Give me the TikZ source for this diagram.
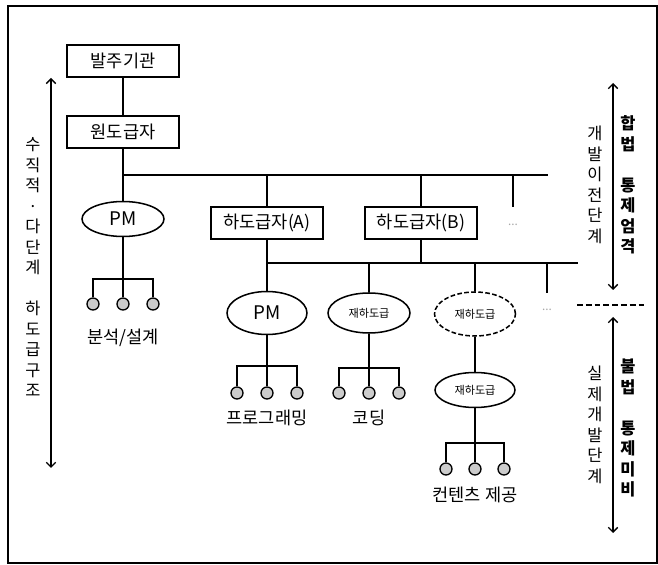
\documentclass[tikz,border=0pt]{standalone}
\usepackage{fontspec}
\usetikzlibrary{shapes.geometric,arrows.meta}
\newfontfamily\kr{Noto Sans CJK KR}

\tikzset{
	box/.style={draw, rectangle, line width=1.3pt, minimum width=3.36cm, minimum height=0.96cm, inner sep=0pt, font=\fontsize{15}{18}\selectfont\kr},
	oval/.style={draw, ellipse, line width=1.3pt, inner sep=0pt, font=\fontsize{16}{18}\selectfont\kr},
	small/.style={font=\fontsize{9.5}{11}\selectfont\kr},
	leaf/.style={draw, circle, fill=gray!40, line width=1.1pt, minimum size=0.36cm, inner sep=0pt},
	link/.style={line width=1.3pt},
	word/.style={font=\fontsize{15}{18}\selectfont\kr},
	dots/.style={text=gray!70, font=\fontsize{10}{11}\selectfont\kr},
	vtext/.style={align=center, inner sep=0pt, font=\fontsize{14}{17.5}\selectfont\kr},
	vbold/.style={vtext, font=\fontsize{14}{17.5}\selectfont\kr\bfseries},
}

\begin{document}
\begin{tikzpicture}[x=0.03cm, y=-0.03cm, >={Straight Barb[length=4pt,width=8pt]}]
				\useasboundingbox (0,0) rectangle (658,565);
				\draw[line width=1.4pt] (8,6) rectangle (657,563);
				% upper level
				\node[box] (org)at(123, 61) {발주기관};
				\node[box] (prime)at(123, 132) {원도급자};
				\node[oval, minimum width=2.46cm, minimum height=1.05cm] (pm1)at(123, 219) {PM};
				\node[box] (subA)at(267, 223) {하도급자(A)};
				\node[box] (subB)at(421, 223) {하도급자(B)};
				\node[dots] (dots1)at(513, 225) {...};
				\coordinate (b1L)at(123, 175);
				\coordinate (b1R)at(548, 175);
				\coordinate (t1)at(513, 207);
				\draw[link] (org) -- (prime);
				\draw[link] (prime) -- (pm1);
				\draw[link] (b1L) -- (b1R);
				\draw[link] (subA) -- (subA |- b1L);
				\draw[link] (subB) -- (subB |- b1L);
				\draw[link] (t1) -- (t1 |- b1L);
				% lower level
				\node[oval, minimum width=2.4cm, minimum height=1.29cm] (pm2)at(267, 313) {PM};
				\node[oval, small, minimum width=2.46cm, minimum height=1.2cm] (re1)at(369, 313) {재하도급};
				\node[oval, small, dash pattern=on 4pt off 2pt, minimum width=2.43cm, minimum height=1.32cm] (re2)at(475, 314) {재하도급};
				\node[oval, small, minimum width=2.4cm, minimum height=1.05cm] (re3)at(475, 390) {재하도급};
				\node[dots] (dots2)at(547, 310) {...};
				\coordinate (b2L)at(267, 263);
				\coordinate (b2R)at(578, 263);
				\coordinate (t2)at(547, 293);
				\draw[link] (subA) -- (pm2);
				\draw[link] (b2L) -- (b2R);
				\draw[link] (subB) -- (subB |- b2L);
				\draw[link] (re1) -- (re1 |- b2L);
				\draw[link] (re2) -- (re2 |- b2L);
				\draw[link] (t2) -- (t2 |- b2L);
				\draw[link] (re2) -- (re3);
				% leaves
				\coordinate (k1)at(123, 279);
				\foreach \n/\dx in {a/-30, b/0, c/30} \node[leaf] (l1\n)at(123+\dx, 304) {};
				\draw[link] (pm1) -- (k1);
				\draw[link] (l1a) |- (k1) -| (l1c);
				\draw[link] (k1) -- (l1b);
				\node[word] (w1)at(123, 338) {분석/설계};
				\coordinate (k2)at(267, 366);
				\foreach \n/\dx in {a/-30, b/0, c/30} \node[leaf] (l2\n)at(267+\dx, 393) {};
				\draw[link] (pm2) -- (k2);
				\draw[link] (l2a) |- (k2) -| (l2c);
				\draw[link] (k2) -- (l2b);
				\node[word] (w2)at(267, 418) {프로그래밍};
				\coordinate (k3)at(369, 368);
				\foreach \n/\dx in {a/-30, b/0, c/30} \node[leaf] (l3\n)at(369+\dx, 393) {};
				\draw[link] (re1) -- (k3);
				\draw[link] (l3a) |- (k3) -| (l3c);
				\draw[link] (k3) -- (l3b);
				\node[word] (w3)at(369, 418) {코딩};
				\coordinate (k4)at(475, 443);
				\foreach \n/\dx in {a/-29, b/0, c/29} \node[leaf] (l4\n)at(475+\dx, 469) {};
				\draw[link] (re3) -- (k4);
				\draw[link] (l4a) |- (k4) -| (l4c);
				\draw[link] (k4) -- (l4b);
				\node[word] (w4)at(475, 495) {컨텐츠 제공};
				% side arrows
				\coordinate (la1)at(51, 78);
				\coordinate (la2)at(51, 468);
				\draw[<->, line width=1.2pt] (la1) -- (la2);
				\node[vtext] (vleft)at(33, 267) {수\\직\\적\\·\\다\\단\\계\\~\\하\\도\\급\\구\\조};
				\coordinate (ra1)at(613, 83);
				\coordinate (ra2)at(613, 290);
				\draw[<->, line width=1.2pt] (ra1) -- (ra2);
				\node[vtext] (pre)at(595, 185) {개\\발\\이\\전\\단\\계};
				\node[vbold] (legal)at(628, 185) {합\\법\\~\\통\\제\\엄\\격};
				\coordinate (d1)at(577, 305);
				\coordinate (d2)at(647, 305);
				\draw[line width=1.3pt, dash pattern=on 5pt off 2.5pt] (d1) -- (d2);
				\coordinate (ra3)at(613, 317);
				\coordinate (ra4)at(613, 533);
				\draw[<->, line width=1.2pt] (ra3) -- (ra4);
				\node[vtext] (dev)at(595, 425) {실\\제\\개\\발\\단\\계};
				\node[vbold] (illegal)at(628, 428) {불\\법\\~\\통\\제\\미\\비};
			\end{tikzpicture}
\end{document}
